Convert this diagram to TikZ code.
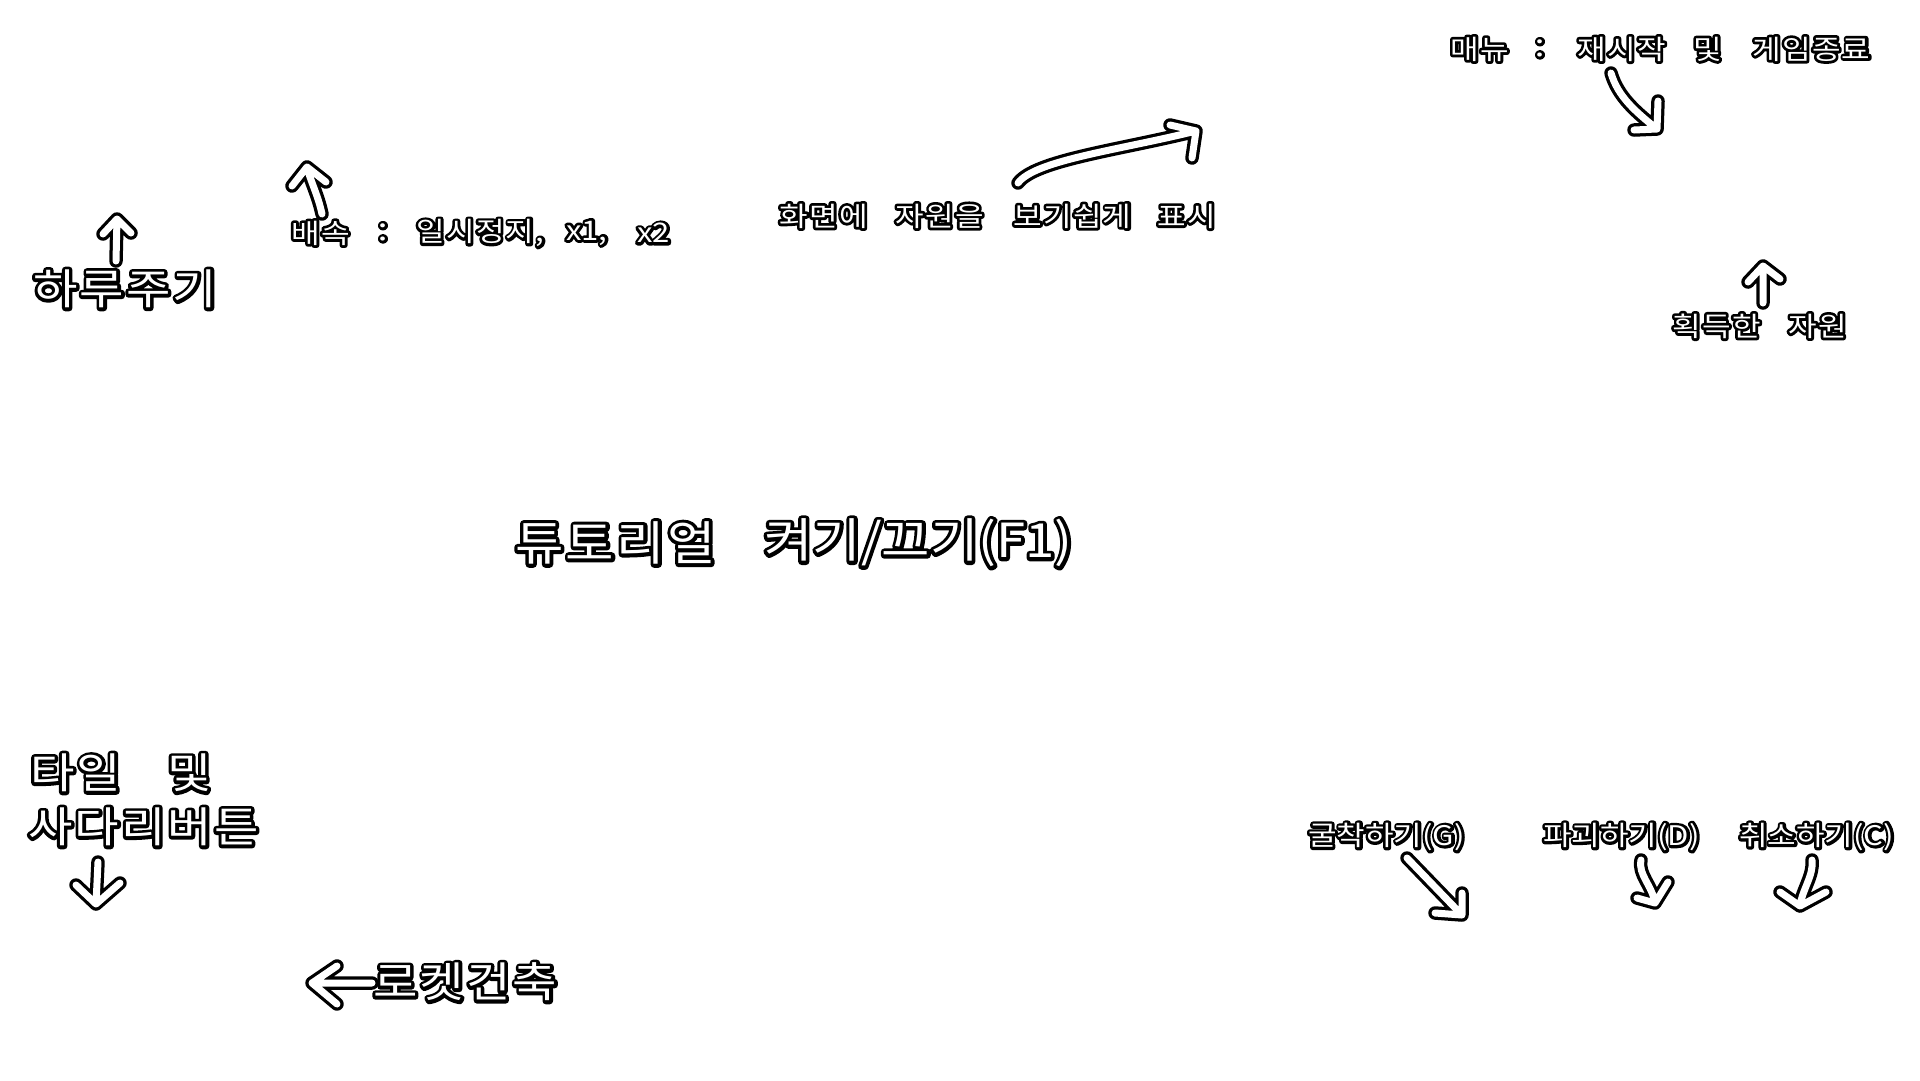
\documentclass[tikz,border=0pt]{standalone}
\usepackage{fontspec}
\setmainfont{Noto Sans CJK KR}
\def\olw{6}
\newcommand\olt[1]{\makebox[0pt][l]{\color{black}\special{pdf:literal direct 2 Tr \olw\space w 1 j 1 J}#1\special{pdf:literal direct 0 Tr}}\textcolor{white}{#1}}
\tikzset{
  lbl/.style={inner sep=0pt, anchor=west},
  bigtxt/.style={font={\fontsize{42}{46}\selectfont\addfontfeature{FakeStretch=1.15,LetterSpace=5}\def\olw{6.5}}},
  hugetxt/.style={font={\fontsize{47}{52}\selectfont\addfontfeature{FakeStretch=1.12,LetterSpace=5}\def\olw{7}}},
  huge2txt/.style={font={\fontsize{47}{52}\selectfont\addfontfeature{FakeStretch=1.12}\def\olw{7}}},
  smalltxt/.style={font={\fontsize{27}{30}\selectfont\addfontfeature{FakeStretch=1.15,LetterSpace=5}\def\olw{5.5}}},
  small2txt/.style={font={\fontsize{27}{30}\selectfont\addfontfeature{FakeStretch=1.15}\def\olw{5.5}}},
  harrow/.style={draw=white, line width=7pt, line cap=round, line join=round,
    preaction={draw=black, line width=13.5pt, line cap=round, line join=round}}
}
\begin{document}
\begin{tikzpicture}[x=1pt,y=-1pt]
\fill[white] (0,0) rectangle (1920,1080);
\useasboundingbox (0,0) rectangle (1920,1080);

% ---- labels ----
\node[lbl,bigtxt] (day) at (33,289) {\olt{하루주기}};

\node[lbl,smalltxt] (spd) at (291,233) {\olt{배속}};
\node[smalltxt,inner sep=0pt] (spdc) at (383,233) {\olt{：}};
\node[lbl,smalltxt] (spd1) at (416,233) {\olt{일시정지,}};
\node[lbl,small2txt] (spd2) at (566,233) {\olt{x1,}};
\node[lbl,small2txt] (spd3) at (637,233) {\olt{x2}};

\node[lbl,smalltxt] (scr1) at (779,216) {\olt{화면에}};
\node[lbl,smalltxt] (scr2) at (895,216) {\olt{자원을}};
\node[lbl,smalltxt] (scr3) at (1013,216) {\olt{보기쉽게}};
\node[lbl,smalltxt] (scr4) at (1157,216) {\olt{표시}};

\node[lbl,smalltxt] (menu1) at (1450,49) {\olt{매뉴}};
\node[smalltxt,inner sep=0pt] (menuc) at (1540,49) {\olt{：}};
\node[lbl,smalltxt] (menu2) at (1577,49) {\olt{재시작}};
\node[lbl,smalltxt] (menu3) at (1693,49) {\olt{및}};
\node[lbl,smalltxt] (menu4) at (1752,49) {\olt{게임종료}};

\node[lbl,smalltxt] (res1) at (1672,326) {\olt{획득한}};
\node[lbl,smalltxt] (res2) at (1788,326) {\olt{자원}};

\node[lbl,hugetxt] (tut1) at (515,543) {\olt{튜토리얼}};
\node[lbl,huge2txt] (tut2) at (764,543) {\olt{켜기/끄기(F1)}};

\node[lbl,bigtxt] (tile1) at (30,773) {\olt{타일}};
\node[lbl,bigtxt] (tile2) at (167,773) {\olt{및}};
\node[lbl,bigtxt] (tile3) at (28,827) {\olt{사다리버튼}};

\node[lbl,bigtxt] (rocket) at (373,982) {\olt{로켓건축}};

\node[lbl,small2txt] (dig) at (1308,837) {\olt{굴착하기(G)}};
\node[lbl,small2txt] (des) at (1543,837) {\olt{파괴하기(D)}};
\node[lbl,small2txt] (can) at (1739,837) {\olt{취소하기(C)}};

% ---- arrow coordinates ----
\coordinate (dayS) at (116,261);
\coordinate (dayT) at (117,219);
\coordinate (dayL) at (103,234);
\coordinate (dayR) at (131,233);

\coordinate (spdS) at (322,214);
\coordinate (spdT) at (307,167);
\coordinate (spdL) at (292,186);
\coordinate (spdR) at (326,182);

\coordinate (scrS) at (1018,183);
\coordinate (scrT) at (1196,131);
\coordinate (scrU) at (1170,125);
\coordinate (scrD) at (1192,158);

\coordinate (menuS) at (1611,73);
\coordinate (menuT) at (1657,129);
\coordinate (menuU) at (1658,101);
\coordinate (menuL) at (1634,130);

\coordinate (resS) at (1763,303);
\coordinate (resT) at (1763,266);
\coordinate (resL) at (1748,282);
\coordinate (resR) at (1780,279);

\coordinate (tileS) at (98,862);
\coordinate (tileT) at (96,904);
\coordinate (tileL) at (76,885);
\coordinate (tileR) at (120,883);

\coordinate (rocS) at (372,983);
\coordinate (rocT) at (312,983);
\coordinate (rocU) at (337,966);
\coordinate (rocD) at (337,1004);

\coordinate (digS) at (1407,858);
\coordinate (digT) at (1462,915);
\coordinate (digU) at (1462,893);
\coordinate (digL) at (1435,913);

\coordinate (desS) at (1641,860);
\coordinate (desT) at (1655,903);
\coordinate (desL) at (1637,898);
\coordinate (desR) at (1668,882);

\coordinate (canS) at (1812,860);
\coordinate (canT) at (1800,906);
\coordinate (canL) at (1780,892);
\coordinate (canR) at (1826,892);

% ---- arrows ----
\draw[harrow] (dayS) -- (dayT) (dayL) -- (dayT) -- (dayR);
\draw[harrow] (spdS) .. controls (318,195) and (310,180) .. (spdT) (spdL) -- (spdT) -- (spdR);
\draw[harrow] (scrS) .. controls (1035,160) and (1120,150) .. (scrT) (scrU) -- (scrT) -- (scrD);
\draw[harrow] (menuS) .. controls (1618,97) and (1636,112) .. (menuT) (menuU) -- (menuT) -- (menuL);
\draw[harrow] (resS) -- (resT) (resL) -- (resT) -- (resR);
\draw[harrow] (tileS) -- (tileT) (tileL) -- (tileT) -- (tileR);
\draw[harrow] (rocS) -- (rocT) (rocU) -- (rocT) -- (rocD);
\draw[harrow] (digS) -- (digT) (digU) -- (digT) -- (digL);
\draw[harrow] (desS) .. controls (1638,875) and (1652,885) .. (desT) (desL) -- (desT) -- (desR);
\draw[harrow] (canS) .. controls (1814,875) and (1802,890) .. (canT) (canL) -- (canT) -- (canR);
\end{tikzpicture}
\end{document}
